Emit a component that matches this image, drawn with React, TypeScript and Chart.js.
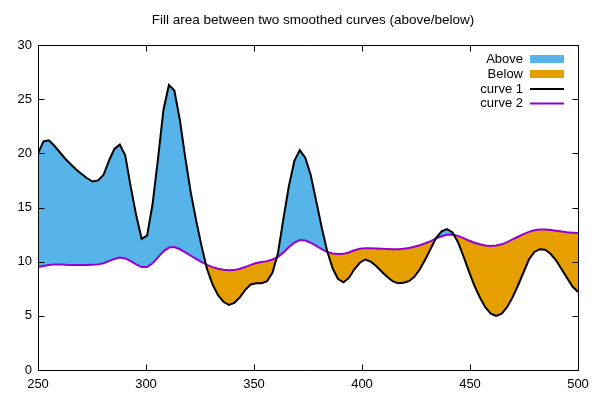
import React, { useEffect, useRef } from 'react';
import { Chart, registerables } from 'chart.js';

Chart.register(...registerables);

const xValues = [
  250.0, 252.53, 255.05, 257.58, 260.1, 262.63, 265.15, 267.68, 270.2, 272.73,
  275.25, 277.78, 280.3, 282.83, 285.35, 287.88, 290.4, 292.93, 295.45, 297.98,
  300.51, 303.03, 305.56, 308.08, 310.61, 313.13, 315.66, 318.18, 320.71, 323.23,
  325.76, 328.28, 330.81, 333.33, 335.86, 338.38, 340.91, 343.43, 345.96, 348.48,
  351.01, 353.54, 356.06, 358.59, 361.11, 363.64, 366.16, 368.69, 371.21, 373.74,
  376.26, 378.79, 381.31, 383.84, 386.36, 388.89, 391.41, 393.94, 396.46, 398.99,
  401.52, 404.04, 406.57, 409.09, 411.62, 414.14, 416.67, 419.19, 421.72, 424.24,
  426.77, 429.29, 431.82, 434.34, 436.87, 439.39, 441.92, 444.44, 446.97, 449.49,
  452.02, 454.55, 457.07, 459.6, 462.12, 464.65, 467.17, 469.7, 472.22, 474.75,
  477.27, 479.8, 482.32, 484.85, 487.37, 489.9, 492.42, 494.95, 497.47, 500.0,
];

const curve1Values = [
  20.0, 21.1, 21.2, 20.7, 20.1, 19.5, 19.0, 18.5, 18.1, 17.7,
  17.4, 17.5, 18.0, 19.3, 20.4, 20.8, 19.8, 16.9, 14.3, 12.1,
  12.4, 15.3, 19.5, 24.0, 26.3, 25.8, 23.1, 19.6, 16.4, 13.8,
  11.4, 9.3, 7.9, 6.9, 6.3, 6.0, 6.2, 6.7, 7.4, 7.9,
  8.0, 8.0, 8.2, 9.0, 10.8, 14.0, 17.0, 19.3, 20.3, 19.6,
  18.0, 15.6, 13.2, 11.0, 9.4, 8.4, 8.1, 8.5, 9.3, 9.9,
  10.2, 10.0, 9.6, 9.1, 8.6, 8.2, 8.0, 8.05, 8.2, 8.6,
  9.3, 10.2, 11.2, 12.2, 12.8, 13.0, 12.7, 11.8, 10.5, 9.1,
  7.8, 6.7, 5.8, 5.2, 5.0, 5.2, 5.8, 6.7, 7.8, 9.0,
  10.2, 10.9, 11.15, 11.1, 10.7, 10.1, 9.3, 8.5, 7.7, 7.2,
];

const curve2Values = [
  9.5, 9.6, 9.7, 9.75, 9.75, 9.72, 9.7, 9.7, 9.7, 9.7,
  9.72, 9.75, 9.85, 10.05, 10.25, 10.38, 10.3, 10.05, 9.75, 9.5,
  9.5, 9.85, 10.4, 10.95, 11.3, 11.35, 11.15, 10.85, 10.55, 10.25,
  9.95, 9.7, 9.5, 9.35, 9.25, 9.2, 9.22, 9.35, 9.5, 9.7,
  9.88, 9.97, 10.05, 10.2, 10.45, 10.85, 11.35, 11.75, 12.0, 11.95,
  11.75, 11.45, 11.15, 10.9, 10.75, 10.7, 10.72, 10.85, 11.05, 11.2,
  11.25, 11.25, 11.22, 11.2, 11.17, 11.15, 11.15, 11.2, 11.27, 11.38,
  11.52, 11.7, 11.9, 12.15, 12.35, 12.48, 12.5, 12.38, 12.18, 11.95,
  11.75, 11.6, 11.5, 11.45, 11.5, 11.6, 11.8, 12.05, 12.3, 12.55,
  12.75, 12.9, 12.97, 12.97, 12.92, 12.85, 12.78, 12.72, 12.68, 12.65,
];

const xTicks = [250, 300, 350, 400, 450, 500];
const yTicks = [0, 5, 10, 15, 20, 25, 30];
const fillLabels = ['Above', 'Below'];
const lineLabels = ['curve 1', 'curve 2'];
const titleText = 'Fill area between two smoothed curves (above/below)';

const COLOR_ABOVE = '#56b4e9';
const COLOR_BELOW = '#e69f00';
const COLOR_C1 = '#000000';
const COLOR_C2 = '#9400d3';
const FONT = '"Liberation Sans", Arial, Helvetica, sans-serif';

const decorPlugin = {
  id: 'gnuDecor',
  afterDraw(chart: any) {
    const ctx = chart.ctx;
    const { left, right, top, bottom } = chart.chartArea;
    const xs = chart.scales.x;
    const ys = chart.scales.y;
    ctx.save();
    ctx.strokeStyle = '#000';
    ctx.lineWidth = 1;
    ctx.beginPath();
    const L = Math.round(left) + 0.5;
    const R = Math.round(right) + 0.5;
    const T = Math.round(top) + 0.5;
    const B = Math.round(bottom) + 0.5;
    ctx.rect(L, T, R - L, B - T);
    const tl = 6;
    yTicks.forEach((v) => {
      const py = Math.round(ys.getPixelForValue(v)) + 0.5;
      ctx.moveTo(L, py); ctx.lineTo(L + tl, py);
      ctx.moveTo(R, py); ctx.lineTo(R - tl, py);
    });
    xTicks.forEach((v) => {
      const px = Math.round(xs.getPixelForValue(v)) + 0.5;
      ctx.moveTo(px, B); ctx.lineTo(px, B - tl);
      ctx.moveTo(px, T); ctx.lineTo(px, T + tl);
    });
    ctx.stroke();

    // title
    ctx.fillStyle = '#000';
    ctx.font = `13.5px ${FONT}`;
    ctx.textAlign = 'center';
    ctx.textBaseline = 'middle';
    ctx.fillText(titleText, 313, 20);

    // legend
    ctx.font = `13px ${FONT}`;
    const textRight = 523;
    const sampleL = 530;
    const sampleR = 564;
    const rowY = [59, 74, 89, 103.5];
    ctx.textAlign = 'right';
    const entries = [
      { label: fillLabels[0], kind: 'box', color: COLOR_ABOVE },
      { label: fillLabels[1], kind: 'box', color: COLOR_BELOW },
      { label: lineLabels[0], kind: 'line', color: COLOR_C1 },
      { label: lineLabels[1], kind: 'line', color: COLOR_C2 },
    ];
    entries.forEach((e, i) => {
      const y = rowY[i];
      ctx.fillStyle = '#000';
      ctx.fillText(e.label, textRight, y);
      if (e.kind === 'box') {
        ctx.fillStyle = e.color;
        ctx.fillRect(sampleL, y - 4, sampleR - sampleL, 8);
      } else {
        ctx.strokeStyle = e.color;
        ctx.lineWidth = 2;
        ctx.beginPath();
        ctx.moveTo(sampleL, y);
        ctx.lineTo(sampleR, y);
        ctx.stroke();
      }
    });
    ctx.restore();
  },
};

export default function App() {
  const canvasRef = useRef<HTMLCanvasElement | null>(null);

  useEffect(() => {
    document.body.style.margin = '0';
    const canvas = canvasRef.current;
    if (!canvas) return;
    const d1 = xValues.map((x, i) => ({ x, y: curve1Values[i] }));
    const d2 = xValues.map((x, i) => ({ x, y: curve2Values[i] }));
    const chart = new Chart(canvas, {
      type: 'line',
      data: {
        datasets: [
          {
            label: lineLabels[0],
            data: d1,
            borderColor: COLOR_C1,
            borderWidth: 2,
            borderJoinStyle: 'miter',
            pointRadius: 0,
            tension: 0,
            fill: { target: 1, above: COLOR_ABOVE, below: COLOR_BELOW },
          },
          {
            label: lineLabels[1],
            data: d2,
            borderColor: COLOR_C2,
            borderWidth: 2,
            pointRadius: 0,
            tension: 0,
            fill: false,
          },
        ],
      },
      options: {
        responsive: false,
        animation: false,
        devicePixelRatio: 1,
        layout: { padding: { top: 45, left: 0, right: 22, bottom: 0 } },
        plugins: {
          legend: { display: false },
          title: { display: false },
          tooltip: { enabled: false },
          filler: { drawTime: 'beforeDatasetsDraw' },
        },
        scales: {
          x: {
            type: 'linear',
            min: 250,
            max: 500,
            afterFit: (s: any) => { s.height = 30; },
            afterBuildTicks: (s: any) => { s.ticks = xTicks.map((v) => ({ value: v })); },
            grid: { display: false, drawTicks: false },
            border: { display: false },
            ticks: { color: '#000', padding: 7, font: { family: FONT, size: 13 } },
          },
          y: {
            type: 'linear',
            min: 0,
            max: 30,
            afterFit: (s: any) => { s.width = 38; },
            afterBuildTicks: (s: any) => { s.ticks = yTicks.map((v) => ({ value: v })); },
            grid: { display: false, drawTicks: false },
            border: { display: false },
            ticks: { color: '#000', padding: 6, font: { family: FONT, size: 13 } },
          },
        },
      },
      plugins: [decorPlugin],
    });
    return () => chart.destroy();
  }, []);

  return (
    <div style={{ position: 'absolute', left: 0, top: 0, width: 600, height: 400 }}>
      <canvas ref={canvasRef} width={600} height={400} style={{ display: 'block', width: 600, height: 400 }} />
    </div>
  );
}
